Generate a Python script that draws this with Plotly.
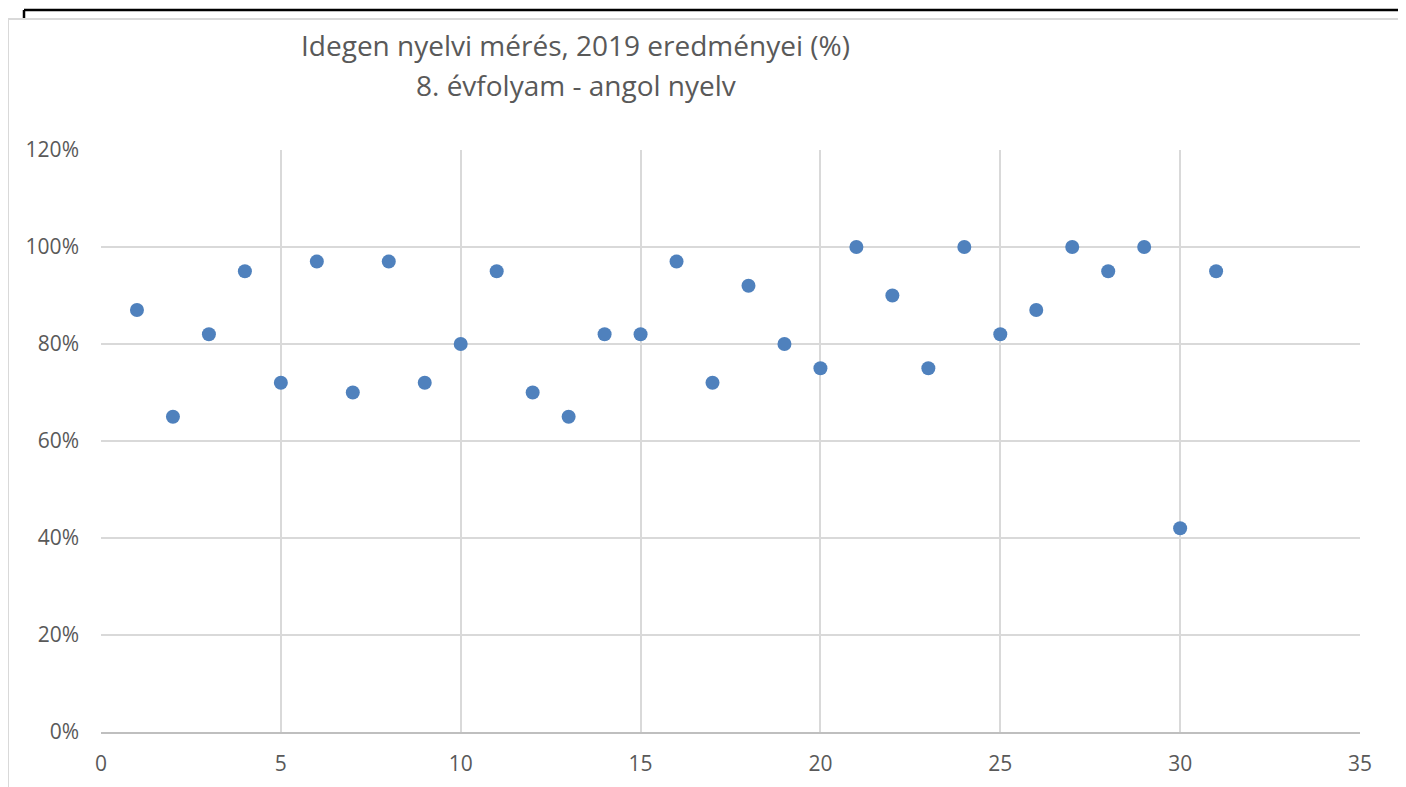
import plotly.graph_objects as go

x_vals = list(range(1, 32))
y_vals = [87, 65, 82, 95, 72, 97, 70, 97, 72, 80, 95, 70, 65, 82, 82, 97, 72, 92, 80, 75,
          100, 90, 75, 100, 82, 87, 100, 95, 100, 42, 95]
title_line1 = "Idegen nyelvi mérés, 2019 eredményei (%)"
title_line2 = "8. évfolyam - angol nyelv"

OFF = 8  # page body margin offset
W, H = 1406, 787
L, R, T, B = 101 - OFF, 1360 - OFF, 150 - OFF, 732 - OFF

def px(x):
    return (x - OFF - L) / (R - L)

def py(y):
    return (B - (y - OFF)) / (B - T)

fig = go.Figure()
fig.add_trace(go.Scatter(
    x=x_vals, y=[v / 100 for v in y_vals], mode="markers",
    marker=dict(color="#4f81bd", size=14, line=dict(width=0)),
    showlegend=False, cliponaxis=False))

font = "Open Sans, Liberation Sans, sans-serif"
title_font = dict(size=28, color="#595959", family=font)
fig.update_layout(
    width=W, height=H,
    margin=dict(l=L, r=W - R, t=T, b=H - B),
    paper_bgcolor="white", plot_bgcolor="white",
    font=dict(family=font, color="#595959", size=21),
    xaxis=dict(range=[0, 35], dtick=5, tick0=0, showgrid=True, gridcolor="#d9d9d9",
               gridwidth=1.5, zeroline=False, showline=True, linecolor="#bfbfbf",
               linewidth=1.5, ticks="", ticklabelstandoff=12, tickfont=dict(size=21)),
    yaxis=dict(range=[0, 1.2], dtick=0.2, tickformat=".0%", showgrid=True,
               gridcolor="#d9d9d9", gridwidth=1.5, zeroline=False, showline=False,
               ticks="", ticklabelstandoff=21, tickfont=dict(size=21)),
    annotations=[
        dict(text=title_line1, xref="paper", yref="paper",
             x=px(575), y=py(45), xanchor="center", yanchor="middle",
             showarrow=False, font=title_font),
        dict(text=title_line2, xref="paper", yref="paper",
             x=px(576), y=py(85), xanchor="center", yanchor="middle",
             showarrow=False, font=title_font),
    ],
    shapes=[
        dict(type="line", xref="paper", yref="paper", x0=px(24), x1=px(1410), y0=py(10), y1=py(10),
             line=dict(color="black", width=2.5)),
        dict(type="line", xref="paper", yref="paper", x0=px(24), x1=px(24), y0=py(10), y1=py(19),
             line=dict(color="black", width=2.5)),
        dict(type="line", xref="paper", yref="paper", x0=px(1401), x1=px(1410), y0=py(673), y1=py(673),
             line=dict(color="black", width=1.5)),
        dict(type="line", xref="paper", yref="paper", x0=px(8), x1=px(1401), y0=py(19), y1=py(19),
             line=dict(color="#d9d9d9", width=2)),
        dict(type="line", xref="paper", yref="paper", x0=px(8), x1=px(8), y0=py(19), y1=py(795),
             line=dict(color="#d9d9d9", width=2)),
        dict(type="line", xref="paper", yref="paper", x0=px(1401), x1=px(1401), y0=py(19), y1=py(795),
             line=dict(color="#d9d9d9", width=2)),
    ],
)
fig.write_html("out.html")
